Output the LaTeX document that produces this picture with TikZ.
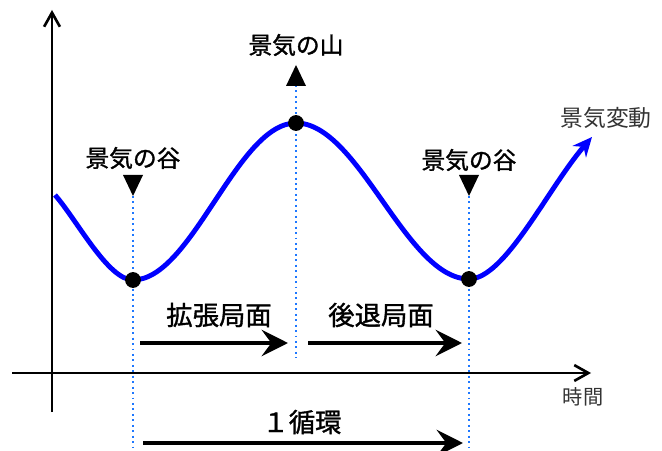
\documentclass[tikz,border=0pt]{standalone}
\usepackage{fontspec}
\newfontfamily\jpfont{Noto Sans CJK JP}
\newfontfamily\jpbold[FakeBold=1.3]{Noto Sans CJK JP}
\usetikzlibrary{arrows.meta}
\definecolor{cycleblue}{RGB}{0,0,255}
\definecolor{guideblue}{RGB}{30,120,255}

\begin{document}
\begin{tikzpicture}[x=0.02cm,y=0.02cm,font=\jpfont,
    >={Stealth[length=15pt,width=15pt,inset=5.5pt]}]
  \tikzset{lbl/.style={font=\jpbold\fontsize{13.5}{16}\selectfont},
    phase/.style={font=\jpbold\fontsize{15}{18}\selectfont},
    thin lbl/.style={font=\jpfont\fontsize{13}{16}\selectfont,text=black!80},
    axis/.style={line width=1.5pt,-{Straight Barb[length=8pt,width=9pt,line width=1.5pt]}},
    wave/.style={cycleblue,line width=2.8pt,-{Stealth[length=11pt,width=10pt]}},
    span/.style={line width=2.3pt,->},
    guide/.style={guideblue,line width=1.1pt,dash pattern=on 1.1pt off 2pt},
    dot/.style={circle,fill,inner sep=0pt,minimum size=9pt}}
  \useasboundingbox (0,0) rectangle (662,450);
  % axes
  \coordinate (ybot) at (52,38);
  \coordinate (ytop) at (52,440);
  \coordinate (xl) at (12,77);
  \coordinate (xr) at (591,77);
  \draw[axis] (ybot) -- (ytop);
  \draw[axis] (xl) -- (xr);
  \node[thin lbl,font=\jpfont\fontsize{11.5}{14}\selectfont] (time) at (583,53) {時間};
  % turning points
  \coordinate (start) at (55,255);
  \coordinate (v1) at (133,170);
  \coordinate (pk) at (296,327);
  \coordinate (v2) at (469,171);
  \coordinate (end) at (592,313);
  % guides
  \coordinate (g1t) at (133,254);
  \coordinate (g1b) at (133,2);
  \coordinate (g2t) at (296,365);
  \coordinate (g2b) at (296,92);
  \coordinate (g3t) at (469,254);
  \coordinate (g3b) at (469,2);
  \draw[guide] (g1t) -- (g1b);
  \draw[guide] (g2t) -- (g2b);
  \draw[guide] (g3t) -- (g3b);
  % the wave
  \draw[wave] (start) .. controls (77,230) and (108,170) .. (v1)
    .. controls +(59,0) and +(-59,0) .. (pk)
    .. controls +(63,0) and +(-63,0) .. (v2)
    .. controls (505,171) and (548,262) .. (end);
  \node[dot] (v1dot) at (v1) {};
  \node[dot] (pkdot) at (pk) {};
  \node[dot] (v2dot) at (v2) {};
  \node[thin lbl] (trend) at (606,332) {景気変動};
  % labels with markers
  \node[lbl] (trough1) at (133,292) {景気の谷};
  \fill (g1t) -- ++(-10,21) -- ++(20,0) -- cycle;
  \node[lbl] (peak) at (296,405) {景気の山};
  \fill (296,385) -- ++(-10,-21) -- ++(20,0) -- cycle;
  \node[lbl] (trough2) at (469,290) {景気の谷};
  \fill (g3t) -- ++(-10,21) -- ++(20,0) -- cycle;
  % phases
  \coordinate (e1) at (140,107);
  \coordinate (e2) at (288,107);
  \coordinate (r1) at (308,107);
  \coordinate (r2) at (462,107);
  \coordinate (c1) at (143,7);
  \coordinate (c2) at (463,7);
  \draw[span] (e1) -- (e2);
  \draw[span] (r1) -- (r2);
  \draw[span] (c1) -- (c2);
  \node[phase] (expand) at (219,135) {拡張局面};
  \node[phase] (recess) at (381,135) {後退局面};
  \node[phase] (onecycle) at (302,28) {１循環};
\end{tikzpicture}
\end{document}
